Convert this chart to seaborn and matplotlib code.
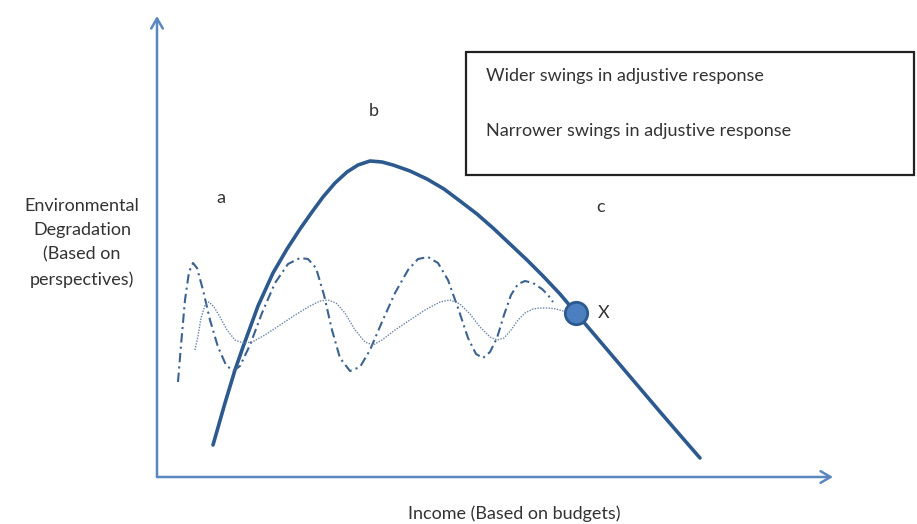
import matplotlib
matplotlib.use("Agg")
import matplotlib.pyplot as plt
import seaborn as sns
from matplotlib.patches import Rectangle

# values, in picture pixels (y grows downwards)
curve_x = [213, 225, 235, 243, 258, 273, 287, 300, 312, 323, 335, 347, 358,
           370, 382, 393, 410, 427, 444, 460, 477, 493, 510, 527, 543, 560,
           576, 593, 610, 627, 644, 661, 680, 700]
curve_y = [445, 403, 370, 347, 306, 273, 249, 229, 212, 197, 183, 172, 165,
           161, 162, 165, 171, 179, 189, 201, 214, 228, 244, 260, 276, 294,
           313, 333, 353, 373, 393, 413, 435, 458]

wide_x = [178, 181, 185, 189, 193, 197, 203, 210, 218, 226, 233, 240, 250,
          262, 275, 288, 300, 308, 316, 324, 332, 340, 350, 360, 370, 382,
          395, 408, 418, 428, 438, 448, 458, 468, 476, 483, 490, 497, 504,
          511, 518, 525, 533, 542, 548, 553]
wide_y = [382, 345, 300, 272, 263, 268, 290, 320, 347, 365, 371, 366, 345,
          313, 283, 264, 258, 259, 268, 295, 330, 358, 371, 367, 350, 322,
          293, 270, 259, 257, 263, 280, 308, 338, 354, 358, 352, 338, 315,
          295, 284, 281, 283, 289, 295, 302]

narrow_x = [195, 198, 201, 205, 209, 214, 220, 227, 235, 243, 252, 265, 280,
            295, 310, 320, 328, 336, 345, 355, 365, 373, 382, 395, 410, 425,
            440, 450, 460, 470, 480, 490, 497, 504, 511, 518, 525, 533, 540,
            548, 556, 563, 570]
narrow_y = [350, 336, 318, 305, 302, 307, 317, 330, 340, 343, 342, 335, 325,
            315, 306, 301, 300, 303, 313, 330, 342, 345, 340, 330, 320, 310,
            302, 300, 304, 314, 327, 337, 340, 338, 330, 320, 313, 309, 308,
            308, 309, 311, 313]

point_x = [576]
point_y = [313]

region_labels = ["a", "b", "c"]
region_x = [221, 374, 601]
region_y = [198, 111, 207]

legend_labels = ["Wider swings in adjustive response",
                 "Narrower swings in adjustive response"]
y_label = "Environmental\nDegradation\n(Based on\nperspectives)"
x_label = "Income (Based on budgets)"

sns.set_theme(style="white")
plt.rcParams["font.family"] = ["Lato", "DejaVu Sans"]

fig = plt.figure(figsize=(9.17, 5.24), dpi=100)
ax = fig.add_axes([0, 0, 1, 1])
ax.set_xlim(0, 917)
ax.set_ylim(524, 0)
ax.axis("off")

axis_col = "#5B87C0"
line_col = "#2D5A8E"
text_col = "#333333"

# axes drawn as arrows
ax.annotate("", xy=(157, 16), xytext=(157, 477),
            arrowprops=dict(arrowstyle="->,head_length=0.6,head_width=0.35",
                            color=axis_col, lw=1.8, shrinkA=0, shrinkB=0))
ax.annotate("", xy=(833, 477), xytext=(157, 477),
            arrowprops=dict(arrowstyle="->,head_length=0.6,head_width=0.35",
                            color=axis_col, lw=1.8, shrinkA=0, shrinkB=0))

sns.lineplot(x=curve_x, y=curve_y, ax=ax, color=line_col, linewidth=2.6,
             sort=False, solid_capstyle="round", solid_joinstyle="round")
sns.lineplot(x=wide_x, y=wide_y, ax=ax, color="#3C628F", linewidth=1.5,
             sort=False, linestyle=(0, (4.5, 2, 1, 2)))
sns.lineplot(x=narrow_x, y=narrow_y, ax=ax, color="#6A84A8", linewidth=1.0,
             sort=False, linestyle=(0, (1, 1)))
sns.scatterplot(x=point_x, y=point_y, ax=ax, s=260, color="#4B7FC0",
                edgecolor="#2D5A8E", linewidth=2, zorder=5)
ax.text(604, 313, "X", fontsize=13, color=text_col, ha="center", va="center")

for lab, lx, ly in zip(region_labels, region_x, region_y):
    ax.text(lx, ly, lab, fontsize=13, color=text_col, ha="center",
            va="center")

# legend box (text only)
ax.add_patch(Rectangle((466, 52), 448, 123, fill=False, edgecolor="#222222",
                       linewidth=1.6))
for i, lab in enumerate(legend_labels):
    ax.text(486, 76 + i * 55, lab, fontsize=13, color=text_col, ha="left",
            va="center")

ax.text(82, 243, y_label, fontsize=13, color=text_col, ha="center",
        va="center", linespacing=1.65)
ax.text(514, 514, x_label, fontsize=13, color=text_col, ha="center",
        va="center")

fig.savefig("out.png", dpi=100)
